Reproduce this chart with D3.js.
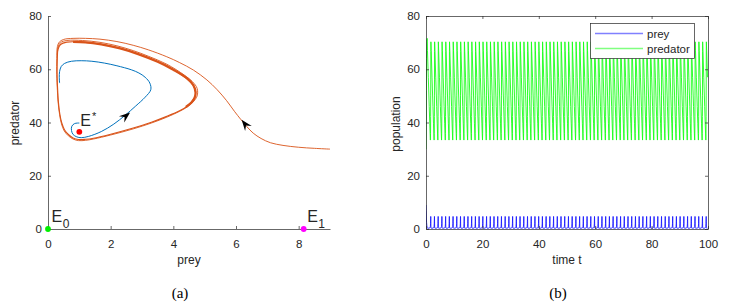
<!DOCTYPE html>
<html><head><meta charset="utf-8">
<script src="https://cdn.jsdelivr.net/npm/d3@7"></script>
<style>
body{margin:0;background:#fff}
svg{display:block}
text{font-family:"Liberation Sans",Arial,Helvetica,sans-serif;fill:#262626}
</style>
</head><body>
<svg id="c" width="730" height="305"></svg>
<script>
// ---------- DATA ----------
// Panel (a): phase plane, points are [prey, predator]
const orangeTransient = [
  [9.0,30.0],[8.5,30.3],[8.0,30.7],[7.5,31.4],[7.1,32.4],[6.8,34.0],[6.55,36.0],[6.35,38.4],[6.15,41.2],
  [5.95,44.2],[5.7,48.2],[5.4,52.3],[5.07,56.0],[4.64,59.7],[4.2,62.5],[3.79,64.7],[3.2,67.3],[2.72,69.0],
  [2.2,70.4],[1.66,71.3],[1.2,71.6],[0.8,71.6],[0.5,71.2],[0.36,70.2],[0.3,68.5],[0.28,64],[0.28,58],
  [0.3,52],[0.32,48],[0.37,43],[0.43,39.5],[0.52,36.8],[0.65,35.0],[0.8,33.8],[0.97,33.2],[1.2,33.3],
  [1.45,33.8],[2.0,35.3],[2.72,37.6],[3.3,39.8],[3.79,42.0],[4.2,44.2],[4.45,45.9],[4.65,48.0],[4.76,50.0],
  [4.76,52.8],[4.62,55.2],[4.35,57.8],[3.79,61.9],[3.2,64.9],[2.72,67.0],[2.2,68.8],[1.66,70.1],[1.1,70.8],
  [0.6,70.8],[0.4,70.0],[0.32,68.2],[0.3,65]
];
const orangeCycle = [
  [0.3,65],[0.29,58],[0.31,52],[0.33,48],[0.38,43],[0.44,39.8],[0.53,37.2],[0.66,35.4],[0.8,34.2],
  [0.97,33.6],[1.2,33.7],[1.45,34.1],[2.0,35.6],[2.72,37.9],[3.3,40.1],[3.79,42.3],[4.2,44.4],[4.43,46.0],
  [4.6,48.0],[4.7,50.0],[4.7,52.6],[4.56,55.0],[4.3,57.5],[3.79,61.4],[3.2,64.3],[2.72,66.4],[2.2,68.2],
  [1.66,69.5],[1.1,70.2],[0.6,70.2],[0.4,69.3],[0.32,67.5],[0.3,65]
];
const orangeBand = [
  [4.4,45.8],[4.58,47.5],[4.68,49.3],[4.71,51.2],[4.64,54.0],[4.45,56.5],[4.0,59.8],[3.5,62.8],[2.9,65.6],
  [2.3,67.8],[1.7,69.3],[1.2,70.1],[0.8,70.3]
];
const blueTraj = [
  [1.0,39.8],[0.85,39.6],[0.76,38.6],[0.75,37.0],[0.8,35.5],[0.92,34.6],[1.06,34.3],[1.3,34.8],[1.7,36.6],
  [2.1,39.4],[2.45,42.6],[2.8,46.2],[3.1,49.5],[3.28,52.3],[3.25,54.8],[3.1,57.0],[2.9,58.6],[2.66,59.8],
  [2.2,61.3],[1.81,62.3],[1.4,63.0],[1.06,63.2],[0.75,63.0],[0.53,62.2],[0.42,61.0],[0.37,59.1],[0.36,57.0],
  [0.37,54.8]
];
const equilibria = [
  {name:"E", sub:"0", sup:"",  prey:0,    pred:0,    color:"#00ee00"},
  {name:"E", sub:"1", sup:"",  prey:8.16, pred:0,    color:"#ff00ff"},
  {name:"E", sub:"",  sup:"*", prey:1.0,  pred:36.5, color:"#ff0000"}
];
// arrows: position [prey, pred] and direction [dprey, dpred]
const arrows = [
  {at:[2.62,43.8], dir:[0.35,3.4]},
  {at:[6.18,41.0], dir:[-0.2,3.0]}
];
const xTicksA = [0,2,4,6,8];
const yTicks = [0,20,40,60,80];

// Panel (b): one limit-cycle oscillation (fraction of period, prey, predator), repeated
const cycleFrac = [0, 0.08, 0.30, 0.55, 0.70, 0.80, 0.86, 0.90, 0.93, 0.95, 0.965, 0.98, 1.0];
const cyclePrey = [0.45, 0.32, 0.30, 0.33, 0.45, 0.65, 0.97, 2.0, 3.8, 4.72, 4.54, 2.7, 0.45];
const cyclePred = [70.3, 67.0, 57.0, 46.0, 39.5, 35.3, 33.4, 35.8, 42.2, 50.0, 56.0, 66.6, 70.3];
const period = 1.32;
const transientT    = [0, 0.05, 0.12, 0.2, 0.3, 0.42];
const transientPrey = [9.0, 7.0, 4.5, 2.5, 1.2, 0.45];
const transientPred = [30, 38, 52, 64, 70.5, 71.6];
const xTicksB = [0,20,40,60,80,100];
const seriesNames = ["prey","predator"];
const seriesColors = ["#1a1aff","#1aff1a"];
const legendColors = ["#8080ff","#80ff80"];

// ---------- DRAW ----------
const svg = d3.select("#c");
const AX = "#262626";
const FONT = '"Liberation Sans",Arial,Helvetica,sans-serif';

function styleAxis(g){
  g.attr("font-family", FONT).attr("font-size", 11.5);
  g.select(".domain").attr("stroke", AX).attr("stroke-width", 0.7);
  g.selectAll(".tick line").attr("stroke", AX).attr("stroke-width", 0.7);
  g.selectAll(".tick text").attr("fill", AX);
}

// Panel (a)
const xA = d3.scaleLinear([0,9],[48,330]);
const yA = d3.scaleLinear([0,80],[229,16]);

svg.append("g").attr("transform","translate(0,229)")
  .call(d3.axisBottom(xA).tickValues(xTicksA).tickSizeInner(-3).tickSizeOuter(0).tickPadding(11))
  .call(styleAxis);
svg.append("g").attr("transform","translate(48,0)")
  .call(d3.axisLeft(yA).tickValues(yTicks).tickSizeInner(-3).tickSizeOuter(0).tickPadding(6))
  .call(styleAxis);

const lineA = d3.line().x(d=>xA(d[0])).y(d=>yA(d[1])).curve(d3.curveCatmullRom.alpha(0.5));
const ORANGE = "#D95319", BLUE = "#0072BD";
svg.append("path").attr("d", lineA(orangeTransient)).attr("fill","none").attr("stroke",ORANGE).attr("stroke-width",0.9);
svg.append("path").attr("d", lineA(orangeCycle)).attr("fill","none").attr("stroke",ORANGE).attr("stroke-width",1.1);
svg.append("path").attr("d", lineA(orangeBand)).attr("fill","none").attr("stroke",ORANGE).attr("stroke-width",2.3);
svg.append("path").attr("d", lineA(blueTraj)).attr("fill","none").attr("stroke",BLUE).attr("stroke-width",1.0);

// arrow heads
arrows.forEach(a=>{
  const x = xA(a.at[0]), y = yA(a.at[1]);
  const dx = xA(a.at[0]+a.dir[0]) - xA(a.at[0]);
  const dy = yA(a.at[1]+a.dir[1]) - yA(a.at[1]);
  const ang = Math.atan2(dy, dx) * 180 / Math.PI;
  const L = 11, W = 4.2;
  svg.append("path")
    .attr("d", `M0,0L${-L},${-W}L${-L*0.65},0L${-L},${W}Z`)
    .attr("transform", `translate(${x},${y}) rotate(${ang})`)
    .attr("fill","#000");
});

// equilibria
equilibria.forEach(e=>{
  const x = xA(e.prey), y = yA(e.pred);
  svg.append("circle").attr("cx",x).attr("cy",y).attr("r",2.9).attr("fill",e.color);
  const t = svg.append("text").attr("font-size",16);
  if (e.sup) {
    t.attr("x", x+1).attr("y", y-5.5);
    t.append("tspan").text(e.name);
    t.append("tspan").attr("font-size",11).attr("dx",1).attr("dy",-6).text(e.sup);
  } else {
    t.attr("x", x+3.5).attr("y", y-7.5);
    t.append("tspan").text(e.name);
    t.append("tspan").attr("font-size",12).attr("dx",0.5).attr("dy",6.6).text(e.sub);
  }
});

svg.append("text").attr("x",189).attr("y",264).attr("text-anchor","middle").attr("font-size",12).text("prey");
svg.append("text").attr("transform","translate(19,123) rotate(-90)").attr("text-anchor","middle").attr("font-size",12).text("predator");
svg.append("text").attr("x",180).attr("y",298).attr("text-anchor","middle").attr("font-size",15)
  .style("font-family",'"Liberation Serif","Times New Roman",serif').style("fill","#000").text("(a)");

// Panel (b)
const xB = d3.scaleLinear([0,100],[426,708]);
const yB = d3.scaleLinear([0,80],[229,16]);

// build time series from the repeated cycle
const ts = [];
transientT.forEach((t,i)=>ts.push({t, prey:transientPrey[i], pred:transientPred[i]}));
const t0 = transientT[transientT.length-1];
for (let k=0; t0 + k*period < 100; k++) {
  cycleFrac.forEach((f,i)=>{
    if (i===0) return;
    const t = t0 + (k+f)*period;
    if (t <= 100) ts.push({t, prey:cyclePrey[i], pred:cyclePred[i]});
  });
}

svg.append("defs").append("clipPath").attr("id","clipB")
  .append("rect").attr("x",426).attr("y",16).attr("width",282).attr("height",213);

const lineB = key => d3.line().x(d=>xB(d.t)).y(d=>yB(d[key]));
const gS = svg.append("g").attr("clip-path","url(#clipB)");
gS.append("path").attr("d", lineB("pred")(ts)).attr("fill","none").attr("stroke",seriesColors[1]).attr("stroke-width",0.9);
gS.append("path").attr("d", lineB("prey")(ts)).attr("fill","none").attr("stroke",seriesColors[0]).attr("stroke-width",0.9);

svg.append("g").attr("transform","translate(0,229)")
  .call(d3.axisBottom(xB).tickValues(xTicksB).tickSizeInner(-3).tickSizeOuter(0).tickPadding(11))
  .call(styleAxis);
svg.append("g").attr("transform","translate(426,0)")
  .call(d3.axisLeft(yB).tickValues(yTicks).tickSizeInner(-3).tickSizeOuter(0).tickPadding(6))
  .call(styleAxis);
svg.append("g").attr("transform","translate(0,16)")
  .call(d3.axisTop(xB).tickValues(xTicksB).tickSizeInner(-3).tickSizeOuter(0).tickFormat(""))
  .call(styleAxis);
svg.append("g").attr("transform","translate(708,0)")
  .call(d3.axisRight(yB).tickValues(yTicks).tickSizeInner(-3).tickSizeOuter(0).tickFormat(""))
  .call(styleAxis);

// legend
const lg = svg.append("g");
lg.append("rect").attr("x",590.5).attr("y",23.5).attr("width",104).attr("height",35)
  .attr("fill","#fff").attr("stroke",AX).attr("stroke-width",0.7);
seriesNames.forEach((n,i)=>{
  const yy = 33.5 + i*15;
  lg.append("line").attr("x1",595).attr("x2",643).attr("y1",yy).attr("y2",yy)
    .attr("stroke",legendColors[i]).attr("stroke-width",1.5);
  lg.append("text").attr("x",647).attr("y",yy+4).attr("font-size",11.5).text(n);
});

svg.append("text").attr("x",567).attr("y",264).attr("text-anchor","middle").attr("font-size",12).text("time t");
svg.append("text").attr("transform","translate(400,124) rotate(-90)").attr("text-anchor","middle").attr("font-size",12).text("population");
svg.append("text").attr("x",558).attr("y",298).attr("text-anchor","middle").attr("font-size",15)
  .style("font-family",'"Liberation Serif","Times New Roman",serif').style("fill","#000").text("(b)");
</script>
</body></html>
